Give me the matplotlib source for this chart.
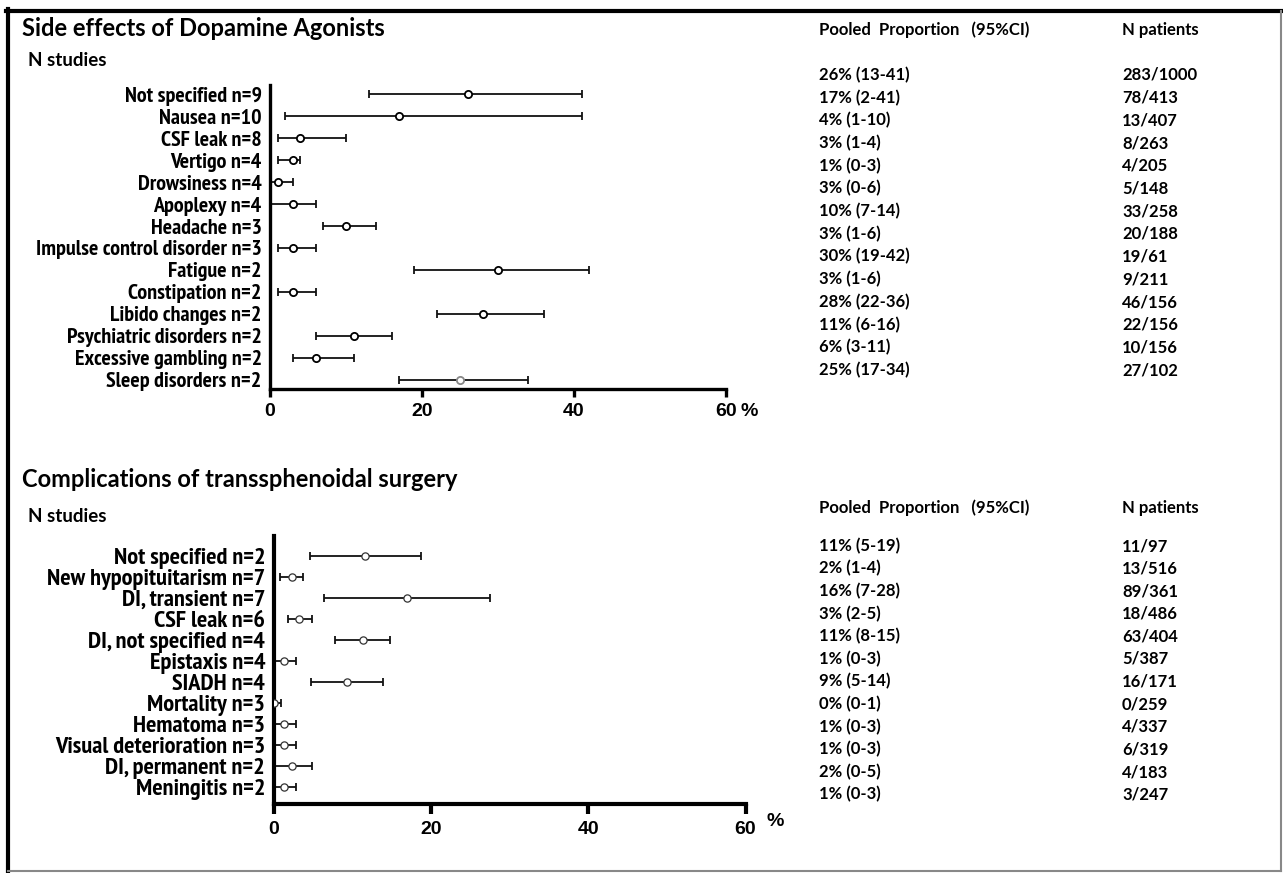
import numpy as np
import matplotlib
matplotlib.use('Agg')
import matplotlib.pyplot as plt
from matplotlib.lines import Line2D
from matplotlib import font_manager as fm

W, H = 1283, 873

# ---- datos: efeitos colaterais dos agonistas de dopamina
da_labels = ['Not specified n=9', 'Nausea n=10', 'CSF leak n=8', 'Vertigo n=4',
             'Drowsiness n=4', 'Apoplexy n=4', 'Headache n=3',
             'Impulse control disorder n=3', 'Fatigue n=2', 'Constipation n=2',
             'Libido changes n=2', 'Psychiatric disorders n=2',
             'Excessive gambling n=2', 'Sleep disorders n=2']
da_est = [26, 17, 4, 3, 1, 3, 10, 3, 30, 3, 28, 11, 6, 25]
da_lo = [13, 2, 1, 1, 0, 0, 7, 1, 19, 1, 22, 6, 3, 17]
da_hi = [41, 41, 10, 4, 3, 6, 14, 6, 42, 6, 36, 16, 11, 34]
da_prop = ['26% (13-41)', '17% (2-41)', '4% (1-10)', '3% (1-4)', '1% (0-3)',
           '3% (0-6)', '10% (7-14)', '3% (1-6)', '30% (19-42)', '3% (1-6)',
           '28% (22-36)', '11% (6-16)', '6% (3-11)', '25% (17-34)']
da_npat = ['283/1000', '78/413', '13/407', '8/263', '4/205', '5/148', '33/258',
           '20/188', '19/61', '9/211', '46/156', '22/156', '10/156', '27/102']

# ---- complicacoes da cirurgia transesfenoidal
ts_labels = ['Not specified n=2', 'New hypopituitarism n=7', 'DI, transient n=7',
             'CSF leak n=6', 'DI, not specified n=4', 'Epistaxis n=4',
             'SIADH n=4', 'Mortality n=3', 'Hematoma n=3',
             'Visual deterioration n=3', 'DI, permanent n=2', 'Meningitis n=2']
ts_est = [11.6, 2.35, 17.0, 3.3, 11.4, 1.3, 9.3, 0.1, 1.3, 1.3, 2.35, 1.3]
ts_lo = [4.6, 0.8, 6.4, 1.8, 7.8, 0.0, 4.8, 0.0, 0.0, 0.0, 0.0, 0.0]
ts_hi = [18.7, 3.8, 27.5, 4.85, 14.8, 2.8, 13.9, 0.9, 2.8, 2.8, 4.85, 2.8]
ts_prop = ['11% (5-19)', '2% (1-4)', '16% (7-28)', '3% (2-5)', '11% (8-15)',
           '1% (0-3)', '9% (5-14)', '0% (0-1)', '1% (0-3)', '1% (0-3)',
           '2% (0-5)', '1% (0-3)']
ts_npat = ['11/97', '13/516', '89/361', '18/486', '63/404', '5/387', '16/171',
           '0/259', '4/337', '6/319', '4/183', '3/247']

xticks = [0, 20, 40, 60]
xticklabels = ['0', '20', '40', '60']

calib = ['Lato', 'DejaVu Sans']
arial = ['Liberation Sans', 'DejaVu Sans']


# procura uma fonte estreita (narrow/condensed) em negrito
def fonte_estreita():
    cands = []
    for f in fm.fontManager.ttflist:
        nome = f.fname.lower()
        if ('narrow' in nome or 'condensed' in nome) and f.weight in ('bold', 700) \
                and f.style == 'normal':
            pri = 0 if 'narrow' in nome else (1 if 'roboto' in nome else 2)
            cands.append((pri, f.fname))
    if cands:
        cands.sort()
        return fm.FontProperties(fname=cands[0][1])
    return fm.FontProperties(family=arial, weight='bold')


narrow = fonte_estreita()


def fx(px):
    return px / W


def fy(py):
    return 1 - py / H


fig = plt.figure(figsize=(W / 100, H / 100), dpi=100)
renderer = fig.canvas.get_renderer()


# tamanho da fonte para que o texto tenha a largura pedida (px)
def tam_para_largura(texto, largura, props, base=12.0):
    t = fig.text(0, 0, texto, fontproperties=props)
    t.set_fontsize(base)
    w = t.get_window_extent(renderer).width
    t.remove()
    return base * largura / w


def panel(box, labels, est, lo, hi, spine_w, mcolors, mew, tick_len, pad, lab_size):
    left, right, top, bottom, ylo, yhi = box
    ax = fig.add_axes([fx(left), fy(bottom), fx(right - left), (bottom - top) / H])
    y = np.arange(len(labels))
    est = np.array(est)
    err = [est - np.array(lo), np.array(hi) - est]
    ax.errorbar(est, y, xerr=err, fmt='none', ecolor='#111111', elinewidth=1.3,
                capsize=3, capthick=1.3, zorder=2)
    for i in range(len(labels)):
        ax.plot(est[i], y[i], 'o', ms=5.2, mfc='white', mec=mcolors[i], mew=mew,
                zorder=3)
    ax.set_xlim(0, 60)
    ax.set_ylim(ylo, yhi)
    ax.set_yticks(y)
    ax.set_yticklabels(labels)
    for t in ax.get_yticklabels():
        t.set_fontproperties(narrow)
        t.set_fontsize(lab_size)
    ax.tick_params(axis='y', length=0, pad=6)
    ax.set_xticks(xticks)
    ax.set_xticklabels(xticklabels, fontfamily=arial, fontweight='bold', fontsize=14)
    ax.tick_params(axis='x', length=tick_len, width=spine_w, pad=pad)
    for s in ['top', 'right']:
        ax.spines[s].set_visible(False)
    for s in ['left', 'bottom']:
        ax.spines[s].set_linewidth(spine_w)
    ax.set_facecolor('none')
    return ax


size_top = tam_para_largura('Impulse control disorder n=3', 225, narrow)
size_bot = tam_para_largura('Visual deterioration n=3', 210, narrow)

# painel de cima
top_colors = ['black'] * 13 + ['#888888']
panel((270, 726, 85, 389, 13.41, -0.41),
      da_labels, da_est, da_lo, da_hi, 2.4, top_colors, 1.3, 6, 4, size_top)
# painel de baixo
bot_colors = ['#333333'] * 12
panel((273.5, 745.5, 536, 804, (804 - 556) / 21.0, -0.95),
      ts_labels, ts_est, ts_lo, ts_hi, 3.0, bot_colors, 0.9, 7, 5, size_bot)

# titulos e cabecalhos
fig.text(fx(22), fy(29), 'Side effects of Dopamine Agonists', fontfamily=calib,
         fontweight='bold', fontsize=17, va='center')
fig.text(fx(28), fy(60), 'N studies', fontfamily=calib, fontweight='bold',
         fontsize=13.5, va='center')
fig.text(fx(22), fy(479), 'Complications of transsphenoidal surgery',
         fontfamily=calib, fontweight='bold', fontsize=17, va='center')
fig.text(fx(28), fy(516), 'N studies', fontfamily=calib, fontweight='bold',
         fontsize=13.5, va='center')

# simbolo de %
fig.text(fx(749), fy(412), '%', fontfamily=arial, fontweight='bold', fontsize=14,
         ha='center', va='center')
fig.text(fx(775), fy(822), '%', fontfamily=arial, fontweight='bold', fontsize=14,
         ha='center', va='center')

# tabelas da direita
for hy, ry, step, props, npats in [(30, 75, 22.7, da_prop, da_npat),
                                    (508, 546, 22.6, ts_prop, ts_npat)]:
    fig.text(fx(819), fy(hy), 'Pooled  Proportion   (95%CI)', fontfamily=calib,
             fontweight='bold', fontsize=12, va='center')
    fig.text(fx(1122), fy(hy), 'N patients', fontfamily=calib, fontweight='bold',
             fontsize=12, va='center')
    for i in range(len(props)):
        fig.text(fx(819), fy(ry + i * step), props[i], fontfamily=calib,
                 fontweight='bold', fontsize=12, va='center')
        fig.text(fx(1122), fy(ry + i * step), npats[i], fontfamily=calib,
                 fontweight='bold', fontsize=12, va='center')

# moldura
fig.add_artist(Line2D([fx(6), fx(1281)], [fy(11), fy(11)], color='black', lw=3))
fig.add_artist(Line2D([fx(8), fx(8)], [fy(9), fy(872)], color='black', lw=3))
fig.add_artist(Line2D([fx(1281), fx(1281)], [fy(11), fy(871)], color='#888888', lw=1.5))
fig.add_artist(Line2D([fx(8), fx(1281)], [fy(871), fy(871)], color='#888888', lw=1.5))

fig.savefig('out.png', dpi=100)
